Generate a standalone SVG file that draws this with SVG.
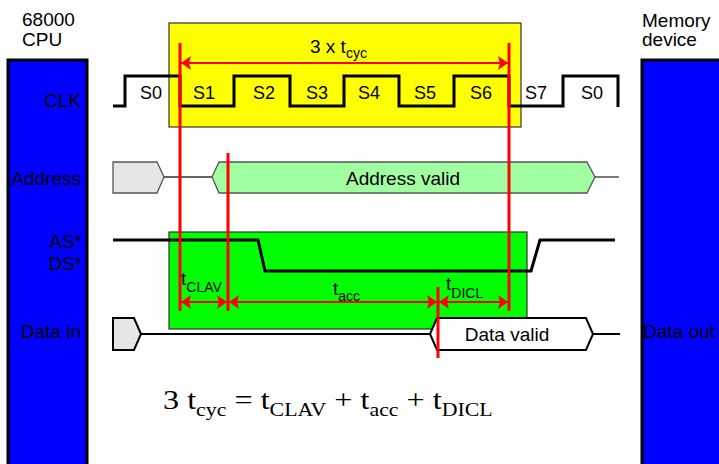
<svg xmlns="http://www.w3.org/2000/svg" width="719" height="464" viewBox="0 0 719 464">
  <style>
    .lbl { font-family: "Liberation Sans", Arial, sans-serif; font-size: 19px; fill: #000; }
    .st { font-family: "Liberation Sans", Arial, sans-serif; font-size: 18px; fill: #000; }
    .sub { font-size: 14px; }
    .eq { font-family: "Liberation Serif", "Times New Roman", serif; font-size: 28px; fill: #000; }
    .eqsub { font-size: 19px; }
    .chip { fill: #0000ff; stroke: #000; stroke-width: 3; }
    .sig { fill: none; stroke: #000; stroke-width: 3; }
    .red { stroke: #ff0000; stroke-width: 3; fill: none; }
    .dim { stroke: #ff0000; stroke-width: 2; fill: none; marker-start: url(#ah); marker-end: url(#ah); }
  </style>
  <defs>
    <marker id="ah" viewBox="0 0 10 14" refX="10" refY="7" markerWidth="10" markerHeight="14" markerUnits="userSpaceOnUse" orient="auto-start-reverse">
      <path d="M0,0 L10,7 L0,14 L2,7 z" fill="#ff0000"/>
    </marker>
  </defs>
  <rect width="719" height="464" fill="#fff"/>

  <!-- CPU block -->
  <g id="cpu">
    <rect class="chip" x="8" y="60" width="79" height="420"/>
    <text class="lbl" x="22" y="26">68000</text>
    <text class="lbl" x="22" y="46">CPU</text>
    <text class="lbl" x="81" y="107" text-anchor="end">CLK</text>
    <text class="lbl" x="81" y="185" text-anchor="end">Address</text>
    <text class="lbl" x="82" y="248" text-anchor="end">AS*</text>
    <text class="lbl" x="82" y="270" text-anchor="end">DS*</text>
    <text class="lbl" x="81" y="338" text-anchor="end">Data in</text>
  </g>

  <!-- Memory block -->
  <g id="memory">
    <rect class="chip" x="642" y="60" width="100" height="420"/>
    <text class="lbl" x="642" y="27">Memory</text>
    <text class="lbl" x="642" y="46">device</text>
    <text class="lbl" x="643" y="338">Data out</text>
  </g>

  <!-- Highlight regions -->
  <g id="cycle-window">
    <rect x="169" y="23" width="352" height="104" fill="#ffff00" stroke="#333" stroke-width="1.2"/>
  </g>
  <g id="strobe-window">
    <rect x="169" y="232" width="358" height="97" fill="#00ff00" stroke="#333" stroke-width="1.2"/>
  </g>

  <!-- Clock -->
  <g id="clk">
    <path class="sig" d="M113,106 H125 V76 H180 V106 H234 V76 H290 V106 H344 V76 H399 V106 H454 V76 H509 V106 H563 V76 H618 V107"/>
    <text class="st" x="140" y="99">S0</text>
    <text class="st" x="193" y="99">S1</text>
    <text class="st" x="253" y="99">S2</text>
    <text class="st" x="306" y="99">S3</text>
    <text class="st" x="358" y="99">S4</text>
    <text class="st" x="414" y="99">S5</text>
    <text class="st" x="470" y="99">S6</text>
    <text class="st" x="525" y="99">S7</text>
    <text class="st" x="581" y="99">S0</text>
  </g>

  <!-- Address bus -->
  <g id="address">
    <polygon points="113,162 157,162 164,177 157,193 113,193" fill="#e6e6e6" stroke="#555" stroke-width="1.3"/>
    <line x1="164" y1="177" x2="212" y2="177" stroke="#333" stroke-width="1.3"/>
    <polygon points="212,177 219,162 587,162 595,177 587,193 219,193" fill="#a0ffa0" stroke="#555" stroke-width="1.3"/>
    <line x1="595" y1="177" x2="619" y2="177" stroke="#333" stroke-width="1.3"/>
    <text class="lbl" x="403" y="185" text-anchor="middle">Address valid</text>
  </g>

  <!-- AS* / DS* strobes -->
  <g id="strobes">
    <path class="sig" d="M113,240 H258 L265,271 H531 L540,240 H615"/>
  </g>

  <!-- Data bus -->
  <g id="data">
    <polygon points="113,318 134,318 141,334 134,350 113,350" fill="#e6e6e6" stroke="#000" stroke-width="2"/>
    <line x1="141" y1="334" x2="430" y2="334" stroke="#000" stroke-width="2"/>
    <polygon points="430,334 437,318 586,318 593,334 586,350 437,350" fill="#fff" stroke="#000" stroke-width="2"/>
    <line x1="593" y1="334" x2="620" y2="334" stroke="#000" stroke-width="2"/>
    <text class="lbl" x="507" y="341" text-anchor="middle">Data valid</text>
  </g>

  <!-- Timing markers and dimensions -->
  <g id="connectors">
    <line class="red" x1="180" y1="43" x2="180" y2="311"/>
    <line class="red" x1="509" y1="43" x2="509" y2="311"/>
    <line class="red" x1="228" y1="153" x2="228" y2="311"/>
    <line class="red" x1="438" y1="287" x2="438" y2="358"/>
    <line class="dim" x1="181" y1="63" x2="508" y2="63"/>
    <line class="dim" x1="181" y1="302" x2="227" y2="302"/>
    <line class="dim" x1="229" y1="302" x2="437" y2="302"/>
    <line class="dim" x1="439" y1="302" x2="508" y2="302"/>
  </g>

  <g id="dimension-labels">
    <text class="lbl" x="310" y="53">3 x t<tspan class="sub" dy="5">cyc</tspan></text>
    <text class="lbl" x="181" y="285">t<tspan class="sub" dy="7">CLAV</tspan></text>
    <text class="lbl" x="333" y="295">t<tspan class="sub" dy="6">acc</tspan></text>
    <text class="lbl" x="446" y="290">t<tspan class="sub" dy="8">DICL</tspan></text>
  </g>

  <!-- Cycle-time relation -->
  <g id="equation">
    <text class="eq" transform="translate(163,409) scale(1.15,1)">3 t<tspan class="eqsub" dy="7">cyc</tspan><tspan dy="-7"> = t</tspan><tspan class="eqsub" dy="7">CLAV</tspan><tspan dy="-7"> + t</tspan><tspan class="eqsub" dy="7">acc</tspan><tspan dy="-7"> + t</tspan><tspan class="eqsub" dy="7">DICL</tspan></text>
  </g>
</svg>
